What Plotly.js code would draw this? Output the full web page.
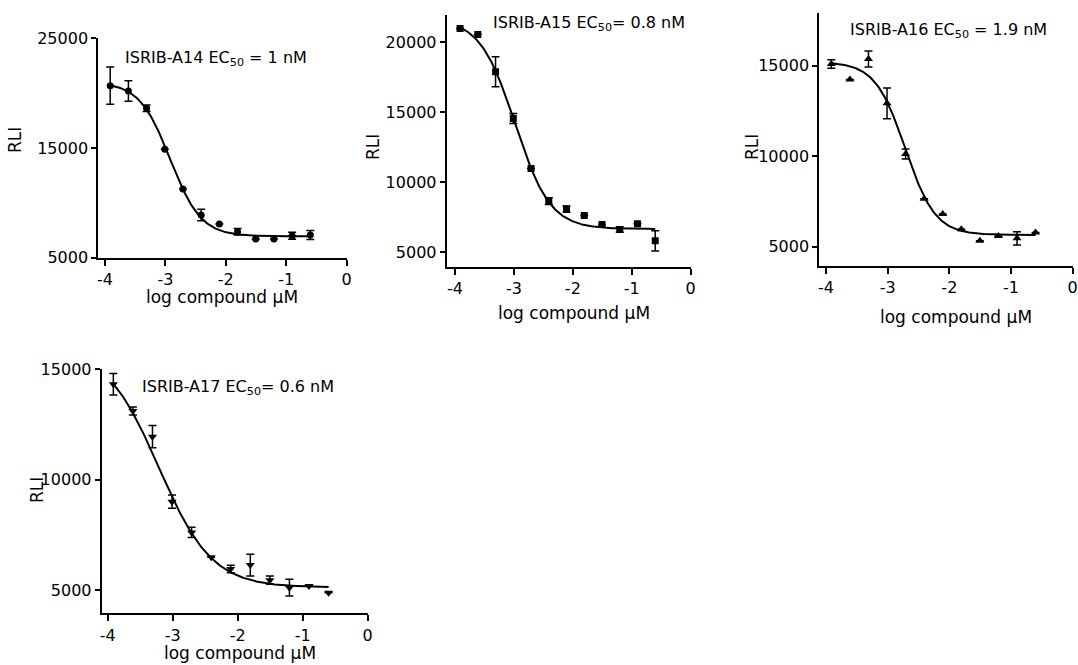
<!DOCTYPE html>
<html>
<head>
<meta charset="utf-8">
<script src="https://cdn.plot.ly/plotly-3.0.1.min.js"></script>
<style>html,body{margin:0;padding:0;background:#fff;}#chart{width:1078px;height:665px;}</style>
</head>
<body>
<div id="chart"></div>
<script>
// log10 concentration (µM), 2-fold dilution series
const logConc = [-3.913, -3.612, -3.311, -3.010, -2.709, -2.408, -2.107, -1.806, -1.505, -1.204, -0.903, -0.602];

// ISRIB-A14
const a14Values = [20680, 20200, 18620, 14880, 11260, 8890, 8070, 7370, 6700, 6700, 7000, 7070];
const a14Errors = [1700, 940, 300, 0, 0, 520, 0, 300, 0, 0, 320, 400];
const a14Fit = {top: 21000, bottom: 6950, logEC50: -2.92, hill: 1.7};

// ISRIB-A15
const a15Values = [21000, 20570, 17900, 14560, 10980, 8640, 8070, 7610, 6970, 6610, 7020, 5800];
const a15Errors = [0, 0, 1070, 360, 0, 240, 230, 0, 0, 200, 0, 720];
const a15Fit = {top: 21700, bottom: 6650, logEC50: -2.979, hill: 1.457};

// ISRIB-A16
const a16Values = [15090, 14240, 15370, 12920, 10120, 7650, 6800, 5960, 5330, 5590, 5460, 5790];
const a16Errors = [230, 0, 440, 850, 280, 0, 0, 0, 0, 0, 370, 0];
const a16Fit = {top: 15200, bottom: 5650, logEC50: -2.714, hill: 1.78};

// ISRIB-A17
const a17Values = [14310, 13100, 11940, 9000, 7610, 6480, 5950, 6130, 5450, 5110, 5180, 4880];
const a17Errors = [490, 180, 505, 300, 230, 0, 170, 490, 190, 380, 0, 0];
const a17Fit = {top: 16000, bottom: 5120, logEC50: -3.215, hill: 1.06};

const xTickVals = [-4, -3, -2, -1, 0];
const xTickText = ['-4', '-3', '-2', '-1', '0'];
const yTicks1 = [5000, 15000, 25000];
const yTicks2 = [5000, 10000, 15000, 20000];
const yTicks3 = [5000, 10000, 15000];
const yTicks4 = [5000, 10000, 15000];

const titles = ['ISRIB-A14 EC<sub>50</sub> = 1 nM', 'ISRIB-A15 EC<sub>50</sub>= 0.8 nM',
                'ISRIB-A16 EC<sub>50</sub> = 1.9 nM', 'ISRIB-A17 EC<sub>50</sub>= 0.6 nM'];
const xTitle = 'log compound \u03BCM';
const yTitle = 'RLI';

function curve(p) {
  const xs = [], ys = [];
  const x0 = logConc[0], x1 = logConc[logConc.length - 1];
  const n = 200;
  for (let i = 0; i <= n; i++) {
    const x = x0 + (x1 - x0) * i / n;
    xs.push(x);
    ys.push(p.bottom + (p.top - p.bottom) / (1 + Math.pow(10, (x - p.logEC50) * p.hill)));
  }
  return {xs, ys};
}

const W = 1078, H = 665;
const fx = px => px / W;
const fy = py => 1 - py / H;

const FONT = 'DejaVu Sans';
const panels = [
  {vals: a14Values, errs: a14Errors, fit: a14Fit, symbol: 'circle', size: 7,
   xdom: [98.3, 346.7], ydom: [257.7, 38.3], xr: [-4.11, 0], yr: [5000, 25000], yt: yTicks1,
   title: [123, 58], xt: [222, 297], ytl: [15, 140]},
  {vals: a15Values, errs: a15Errors, fit: a15Fit, symbol: 'square', size: 7,
   xdom: [446.7, 690.7], ydom: [266.7, 15], xr: [-4.14, 0], yr: [3950, 21960], yt: yTicks2,
   title: [490.7, 24], xt: [574, 313], ytl: [373, 147]},
  {vals: a16Values, errs: a16Errors, fit: a16Fit, symbol: 'triangle-up', size: 8,
   xdom: [819.3, 1072.7], ydom: [265.7, 13.3], xr: [-4.108, 0], yr: [3950, 17890], yt: yTicks3,
   title: [847.7, 30], xt: [956, 317], ytl: [752, 147]},
  {vals: a17Values, errs: a17Errors, fit: a17Fit, symbol: 'triangle-down', size: 8,
   xdom: [101.7, 367.7], ydom: [613.3, 369], xr: [-4.092, 0], yr: [3950, 15000], yt: yTicks4,
   title: [140, 387], xt: [240, 653], ytl: [37, 490]}
];

const data = [];
const layout = {
  width: W, height: H,
  margin: {l: 0, r: 0, t: 0, b: 0},
  paper_bgcolor: '#fff', plot_bgcolor: 'rgba(0,0,0,0)',
  showlegend: false,
  font: {family: FONT, color: '#000', size: 16},
  annotations: []
};

panels.forEach((p, i) => {
  const k = i === 0 ? '' : String(i + 1);
  const xa = 'x' + k, ya = 'y' + k;
  const c = curve(p.fit);
  data.push({x: c.xs, y: c.ys, xaxis: xa, yaxis: ya, mode: 'lines', type: 'scatter',
             line: {color: '#000', width: 2}, hoverinfo: 'skip'});
  data.push({x: logConc, y: p.vals, xaxis: xa, yaxis: ya, mode: 'markers', type: 'scatter',
             marker: {symbol: p.symbol, size: p.size, color: '#000'},
             error_y: {type: 'data', array: p.errs, visible: true, color: '#000', thickness: 1.5, width: 4}});
  layout['xaxis' + k] = {
    domain: [fx(p.xdom[0]), fx(p.xdom[1])], range: p.xr, anchor: ya,
    showline: true, linecolor: '#000', linewidth: 2, showgrid: false, zeroline: false,
    ticks: 'outside', ticklen: 6, tickwidth: 2, tickcolor: '#000',
    tickvals: xTickVals, ticktext: xTickText, tickfont: {size: 16, family: FONT}
  };
  layout['yaxis' + k] = {
    domain: [fy(p.ydom[0]), fy(p.ydom[1])], range: p.yr, anchor: xa,
    showline: true, linecolor: '#000', linewidth: 2, showgrid: false, zeroline: false,
    ticks: 'outside', ticklen: 5, tickwidth: 2, tickcolor: '#000',
    tickvals: p.yt, ticktext: p.yt.map(String), tickfont: {size: 16, family: FONT}
  };
  layout.annotations.push({text: titles[i], xref: 'paper', yref: 'paper',
    x: fx(p.title[0]), y: fy(p.title[1]), xanchor: 'left', yanchor: 'middle',
    showarrow: false, font: {size: 16, family: FONT}});
  layout.annotations.push({text: xTitle, xref: 'paper', yref: 'paper',
    x: fx(p.xt[0]), y: fy(p.xt[1]), xanchor: 'center', yanchor: 'middle',
    showarrow: false, font: {size: 17, family: FONT}});
  layout.annotations.push({text: yTitle, xref: 'paper', yref: 'paper',
    x: fx(p.ytl[0]), y: fy(p.ytl[1]), xanchor: 'center', yanchor: 'middle', textangle: -90,
    showarrow: false, font: {size: 17, family: FONT}});
});

Plotly.newPlot('chart', data, layout, {displayModeBar: false, staticPlot: true});
</script>
</body>
</html>
